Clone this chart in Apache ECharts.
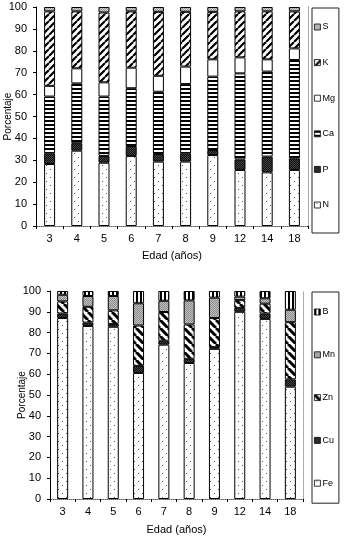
<!DOCTYPE html>
<html>
<head>
<meta charset="utf-8">
<script src="https://cdn.jsdelivr.net/npm/echarts@6/dist/echarts.min.js"></script>
<style>
  html, body { margin: 0; padding: 0; background: #fff; }
  #chart { width: 347px; height: 538px; }
</style>
</head>
<body>
<div id="chart"></div>
<script>
// ages (categories) shared by both panels
const edades = ['3', '4', '5', '6', '7', '8', '9', '12', '14', '18'];

// macronutrients, % of total (top panel)
const N_ = [28.3, 34.4, 28.9, 32.0, 29.4, 29.4, 32.4, 25.6, 24.5, 25.6];
const P_ = [4.9, 3.4, 3.1, 4.5, 3.5, 3.8, 2.3, 4.8, 7.2, 5.3];
const Ca = [25.9, 27.3, 27.1, 26.4, 28.4, 31.6, 33.5, 39.3, 38.8, 44.9];
const Mg = [4.9, 6.9, 6.5, 9.4, 7.3, 8.0, 7.9, 7.3, 5.6, 5.3];
const K_ = [34.0, 26.0, 31.9, 25.7, 29.2, 25.0, 21.7, 21.0, 21.9, 16.9];
const S_ = [2.0, 2.0, 2.5, 2.0, 2.2, 2.2, 2.2, 2.0, 2.0, 2.0];

// micronutrients, % of total (bottom panel)
const Fe = [87.0, 83.2, 82.8, 60.6, 74.2, 65.4, 72.2, 90.0, 86.6, 54.0];
const Cu = [2.2, 1.6, 1.4, 3.4, 1.9, 2.0, 0.8, 1.9, 2.6, 3.5];
const Zn = [5.8, 7.6, 6.5, 19.4, 13.8, 16.5, 14.0, 3.7, 4.7, 27.5];
const Mn = [3.2, 5.2, 6.9, 10.7, 5.4, 11.6, 9.8, 1.7, 2.6, 6.0];
const B_ = [1.8, 2.4, 2.4, 5.9, 4.7, 4.5, 3.2, 2.7, 3.5, 9.0];

// small canvas fills to mimic the excel hatch patterns
function pat(w, h, draw) {
  const c = document.createElement('canvas');
  c.width = w; c.height = h;
  const g = c.getContext('2d');
  draw(g, w, h);
  return { image: c, repeat: 'repeat' };
}
function diag(s, lw, back) {
  return pat(s, s, (g) => {
    g.fillStyle = '#fff'; g.fillRect(0, 0, s, s);
    g.strokeStyle = '#000'; g.lineWidth = lw;
    g.beginPath();
    for (const k of [-s, 0, s]) {
      if (back) { g.moveTo(k, 0); g.lineTo(k + s, s); }
      else { g.moveTo(k, s); g.lineTo(k + s, 0); }
    }
    g.stroke();
  });
}
const fillDots = pat(8, 8, (g) => {
  g.fillStyle = '#fff'; g.fillRect(0, 0, 8, 8);
  g.fillStyle = '#555'; g.fillRect(2, 1, 1, 1); g.fillRect(6, 5, 1, 1);
});
const fillDark = pat(2, 2, (g) => {
  g.fillStyle = '#111'; g.fillRect(0, 0, 2, 2);
  g.fillStyle = '#444'; g.fillRect(0, 0, 1, 1); g.fillRect(1, 1, 1, 1);
});
const fillHoriz = pat(1, 4, (g) => {
  g.fillStyle = '#fff'; g.fillRect(0, 0, 1, 4);
  g.fillStyle = '#000'; g.fillRect(0, 0, 1, 2);
});
const fillVert = pat(4, 1, (g) => {
  g.fillStyle = '#fff'; g.fillRect(0, 0, 4, 1);
  g.fillStyle = '#000'; g.fillRect(0, 0, 2, 1);
});
const fillGrayS = pat(2, 2, (g) => {
  g.fillStyle = '#cfcfcf'; g.fillRect(0, 0, 2, 2);
  g.fillStyle = '#999'; g.fillRect(0, 0, 1, 1); g.fillRect(1, 1, 1, 1);
});
const fillGrayMn = pat(2, 2, (g) => {
  g.fillStyle = '#c0c0c0'; g.fillRect(0, 0, 2, 2);
  g.fillStyle = '#8c8c8c'; g.fillRect(0, 0, 1, 1); g.fillRect(1, 1, 1, 1);
});
const fillK = diag(7, 2.2, false);
const fillZn = diag(8, 3, true);

const FONT = 'Liberation Sans, Arial, sans-serif';

function axesFor(gi, yGap, xGap) {
  const dotted = { show: true, lineStyle: { color: '#999', type: 'dotted', width: 1 } };
  return {
    x: [
      {
        type: 'category', gridIndex: gi, data: edades, position: 'bottom',
        name: 'Edad (años)', nameLocation: 'middle', nameGap: xGap,
        nameMoveOverlap: false,
        nameTextStyle: { color: '#000', fontSize: 11, fontFamily: FONT },
        axisLine: { lineStyle: { color: '#000', width: 1 } },
        axisTick: { show: true, length: 3, alignWithLabel: false, lineStyle: { color: '#000' } },
        axisLabel: { color: '#000', fontSize: 11, fontFamily: FONT, margin: 7 }
      },
      {
        type: 'category', gridIndex: gi, data: edades, position: 'top',
        axisLine: dotted, axisTick: { show: false }, axisLabel: { show: false }
      }
    ],
    y: [
      {
        type: 'value', gridIndex: gi, min: 0, max: 100, interval: 10,
        name: 'Porcentaje', nameLocation: 'middle', nameGap: yGap,
        nameMoveOverlap: false,
        nameTextStyle: { color: '#000', fontSize: 10, fontFamily: FONT },
        axisLine: { show: true, lineStyle: { color: '#000', width: 1 } },
        axisTick: { show: true, length: 3, lineStyle: { color: '#000' } },
        axisLabel: { color: '#000', fontSize: 11, fontFamily: FONT, margin: 9 },
        splitLine: { show: false }
      },
      {
        type: 'value', gridIndex: gi, min: 0, max: 100, position: 'right',
        axisLine: dotted, axisTick: { show: false }, axisLabel: { show: false },
        splitLine: { show: false }
      }
    ]
  };
}

const a1 = axesFor(0, 23, 24);
const a2 = axesFor(1, 23, 25);

function bar(name, data, fill, xi, yi, stack, w) {
  return {
    name, type: 'bar', stack, data, xAxisIndex: xi, yAxisIndex: yi,
    barWidth: w,
    itemStyle: { color: fill, borderColor: '#000', borderWidth: 1 },
    emphasis: { disabled: true }
  };
}

const series = [
  bar('N', N_, fillDots, 0, 0, 'macro', 11),
  bar('P', P_, fillDark, 0, 0, 'macro', 11),
  bar('Ca', Ca, fillHoriz, 0, 0, 'macro', 11),
  bar('Mg', Mg, '#fff', 0, 0, 'macro', 11),
  bar('K', K_, fillK, 0, 0, 'macro', 11),
  bar('S', S_, fillGrayS, 0, 0, 'macro', 11),
  bar('Fe', Fe, fillDots, 2, 2, 'micro', 11),
  bar('Cu', Cu, fillDark, 2, 2, 'micro', 11),
  bar('Zn', Zn, fillZn, 2, 2, 'micro', 11),
  bar('Mn', Mn, fillGrayMn, 2, 2, 'micro', 11),
  bar('B', B_, fillVert, 2, 2, 'micro', 11)
];

const legendBase = {
  orient: 'vertical', left: 312, itemWidth: 6, itemHeight: 6,
  icon: 'rect', borderColor: '#222', borderWidth: 1, backgroundColor: '#fff',
  selectedMode: false,
  itemStyle: { borderColor: '#000', borderWidth: 0.8 },
  textStyle: { color: '#000', fontSize: 9, fontFamily: FONT, lineHeight: 10, padding: [0, 0, 0, -3] }
};

const chart = echarts.init(document.getElementById('chart'), null, { renderer: 'canvas' });
chart.setOption({
  animation: false,
  backgroundColor: '#fff',
  grid: [
    { left: 36, right: 39, top: 7, bottom: 312, containLabel: false, outerBoundsMode: 'none' },
    { left: 50, right: 44, top: 291, bottom: 39, containLabel: false, outerBoundsMode: 'none' }
  ],
  xAxis: [...a1.x, ...a2.x],
  yAxis: [...a1.y, ...a2.y],
  legend: [
    Object.assign({}, legendBase, {
      top: 8, data: ['S', 'K', 'Mg', 'Ca', 'P', 'N'],
      itemGap: 25.6, padding: [14, 4, 23, 2]
    }),
    Object.assign({}, legendBase, {
      top: 292, data: ['B', 'Mn', 'Zn', 'Cu', 'Fe'],
      itemGap: 32.8, padding: [15, 4, 15, 2]
    })
  ],
  series
});
window.addEventListener('resize', () => chart.resize());
</script>
</body>
</html>
